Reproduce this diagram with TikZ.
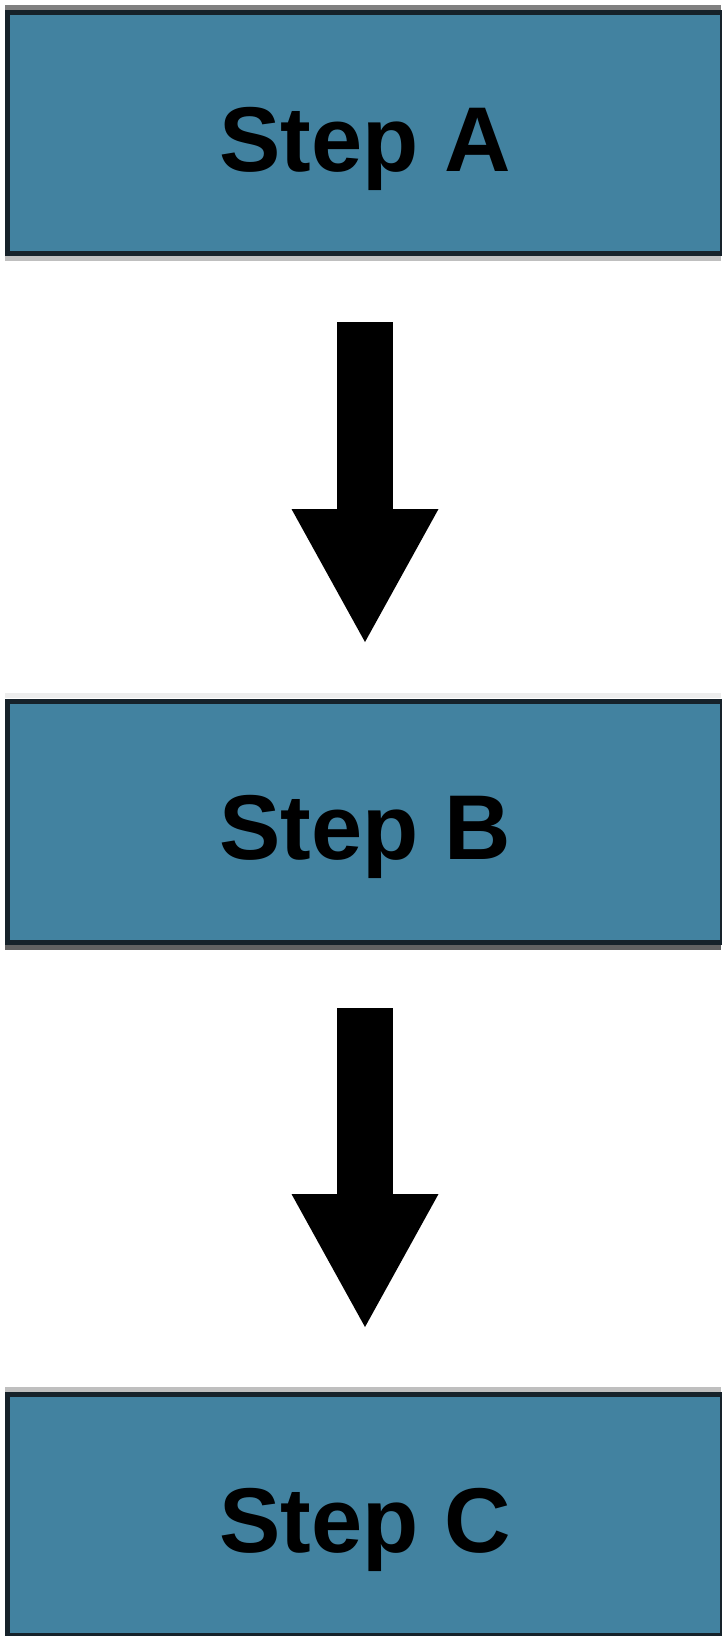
\documentclass[tikz,border=0pt]{standalone}
\usepackage{fontspec}
\setmainfont{Liberation Sans}
\usetikzlibrary{arrows.meta}
\definecolor{boxfill}{RGB}{66,130,160}
\definecolor{boxline}{RGB}{22,34,42}
\begin{document}
\begin{tikzpicture}[x=1pt,y=-1pt,
  stepbox/.style={draw=boxline, line width=5pt, fill=boxfill, rectangle,
    inner sep=0pt, minimum width=715pt, minimum height=241pt},
  steplabel/.style={anchor=base, inner sep=0pt, text=black,
    font=\fontsize{92}{100}\selectfont\bfseries},
  blockarrow/.style={draw=black, line width=56pt,
    -{Triangle[width=147pt,length=133pt,line width=0pt]}},
  halo/.style={line width=5pt}]
\useasboundingbox (0,0) rectangle (721,1636);
\fill[white] (0,0) rectangle (721,1636);
% soft rules around the boxes
\draw[halo, draw=gray!100] (5,7.5) -- (721,7.5);
\draw[halo, draw=black!25] (5,258.5) -- (721,258.5);
\draw[halo, draw=black!7] (5,695.5) -- (721,695.5);
\draw[halo, draw=black!62] (5,947.5) -- (721,947.5);
\draw[halo, draw=black!25] (5,1389.5) -- (721,1389.5);
% boxes
\node[stepbox] (a) at (365,133) {};
\node[stepbox] (b) at (365,821.5) {};
\node[stepbox] (c) at (365,1515) {};
% labels
\node[steplabel] (ta) at (365,171) {Step A};
\node[steplabel] (tb) at (365,859) {Step B};
\node[steplabel] (tc) at (365,1552) {Step C};
% arrow ends
\coordinate (a1s) at (365,322);
\coordinate (a1e) at (365,642);
\coordinate (a2s) at (365,1008);
\coordinate (a2e) at (365,1327);
\draw[blockarrow] (a1s) -- (a1e);
\draw[blockarrow] (a2s) -- (a2e);
\end{tikzpicture}
\end{document}
